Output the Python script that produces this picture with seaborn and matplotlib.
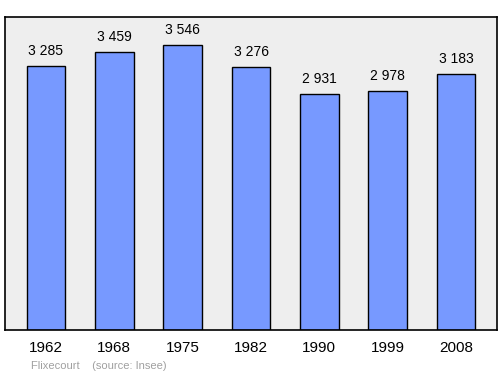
import matplotlib
matplotlib.use("Agg")
import matplotlib.pyplot as plt
import seaborn as sns
import pandas as pd

years = ["1962", "1968", "1975", "1982", "1990", "1999", "2008"]
population = [3285, 3459, 3546, 3276, 2931, 2978, 3183]
value_labels = ["3 285", "3 459", "3 546", "3 276", "2 931", "2 978", "3 183"]

sns.set_theme(style="white")
plt.rcParams['font.family'] = ['Liberation Sans', 'DejaVu Sans']

df = pd.DataFrame({"year": years, "pop": population})

fig = plt.figure(figsize=(5.0, 3.74), dpi=100)
ax = fig.add_axes([0.01, 0.1176, 0.984, 0.8369])
ax.set_facecolor("#eeeeee")

sns.barplot(data=df, x="year", y="pop", color="#7799ff", saturation=1,
            width=0.57, edgecolor="black", linewidth=1, ax=ax)

for i, (v, lab) in enumerate(zip(population, value_labels)):
    ax.annotate(lab, (i, v), xytext=(0, 15 * 0.72), textcoords="offset points",
                ha="center", va="center", fontsize=10, color="black")

ax.set_xlim(-0.6, 6.6)
ax.set_ylim(0, 3893)
ax.set_yticks([])
ax.set_xlabel("")
ax.set_ylabel("")
ax.tick_params(axis="x", length=0, labelsize=11, pad=8, colors="black")
for s in ax.spines.values():
    s.set_visible(True)
    s.set_color("black")
    s.set_linewidth(1.2)

fig.text(0.062, 0.021, "Flixecourt    (source: Insee)", fontsize=8,
         color="#a0a0a0", ha="left", va="center")

fig.savefig("out.png", dpi=100, facecolor="white")
